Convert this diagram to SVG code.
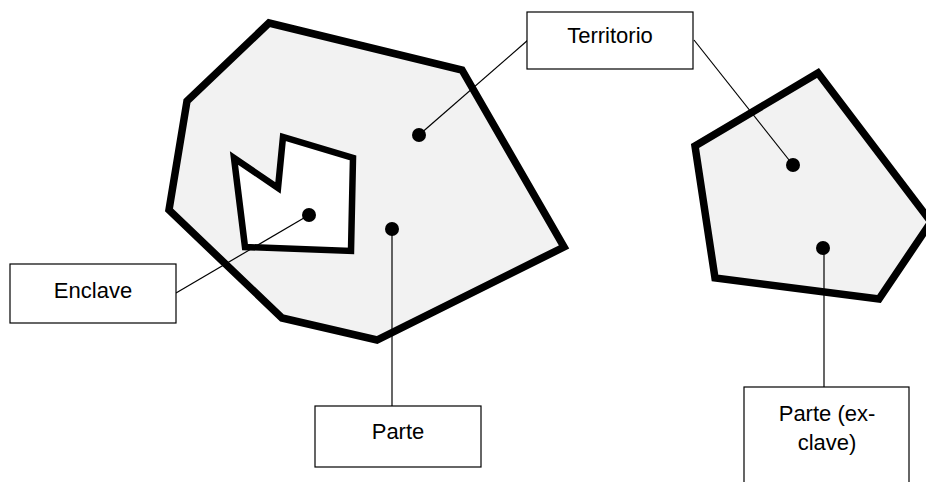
<svg xmlns="http://www.w3.org/2000/svg" width="926" height="482" viewBox="0 0 926 482">
<style>
.land{fill:#f2f2f2;stroke:#000;stroke-width:7.5;stroke-linejoin:miter}
.hole{fill:#fff;stroke:#000;stroke-width:6.5}
.box{fill:#fff;stroke:#000;stroke-width:1.2}
.lbl{font-family:"Liberation Sans",Arial,sans-serif;font-size:22px;fill:#000;text-anchor:middle}
.conn{stroke:#000;stroke-width:1.2;fill:none}
.dot{fill:#000}
</style>
<rect width="926" height="482" fill="#fff"/>
<g id="territory-main">
<polygon class="land" points="269,23 462,70 564,247 377,340 282,318 169,210 187,101"/>
<polygon class="hole" points="234,158 278,188 283,137 353,158 351,251 245,247"/>
</g>
<g id="territory-exclave">
<polygon class="land" points="695,146 818,73 931,222 879,299 715,278"/>
</g>
<g id="connectors">
<line class="conn" x1="528" y1="40" x2="419" y2="135"/>
<line class="conn" x1="694" y1="40" x2="793" y2="165"/>
<line class="conn" x1="176" y1="293" x2="309" y2="215"/>
<line class="conn" x1="392" y1="229" x2="392" y2="406"/>
<line class="conn" x1="824" y1="248" x2="824" y2="387"/>
</g>
<g id="dots">
<circle class="dot" cx="419" cy="135" r="7"/>
<circle class="dot" cx="793" cy="165" r="7"/>
<circle class="dot" cx="309" cy="215" r="7"/>
<circle class="dot" cx="392" cy="229" r="7"/>
<circle class="dot" cx="823" cy="248" r="7"/>
</g>
<g id="label-territorio">
<rect class="box" x="527" y="12" width="166" height="57"/>
<text class="lbl" x="610" y="43">Territorio</text>
</g>
<g id="label-enclave">
<rect class="box" x="10" y="264" width="166" height="59"/>
<text class="lbl" x="93" y="298">Enclave</text>
</g>
<g id="label-parte">
<rect class="box" x="315" y="406" width="166" height="61"/>
<text class="lbl" x="398" y="439">Parte</text>
</g>
<g id="label-exclave">
<rect class="box" x="744" y="387" width="165" height="110"/>
<text class="lbl" x="827" y="421">Parte (ex-</text>
<text class="lbl" x="827" y="450">clave)</text>
</g>
</svg>
